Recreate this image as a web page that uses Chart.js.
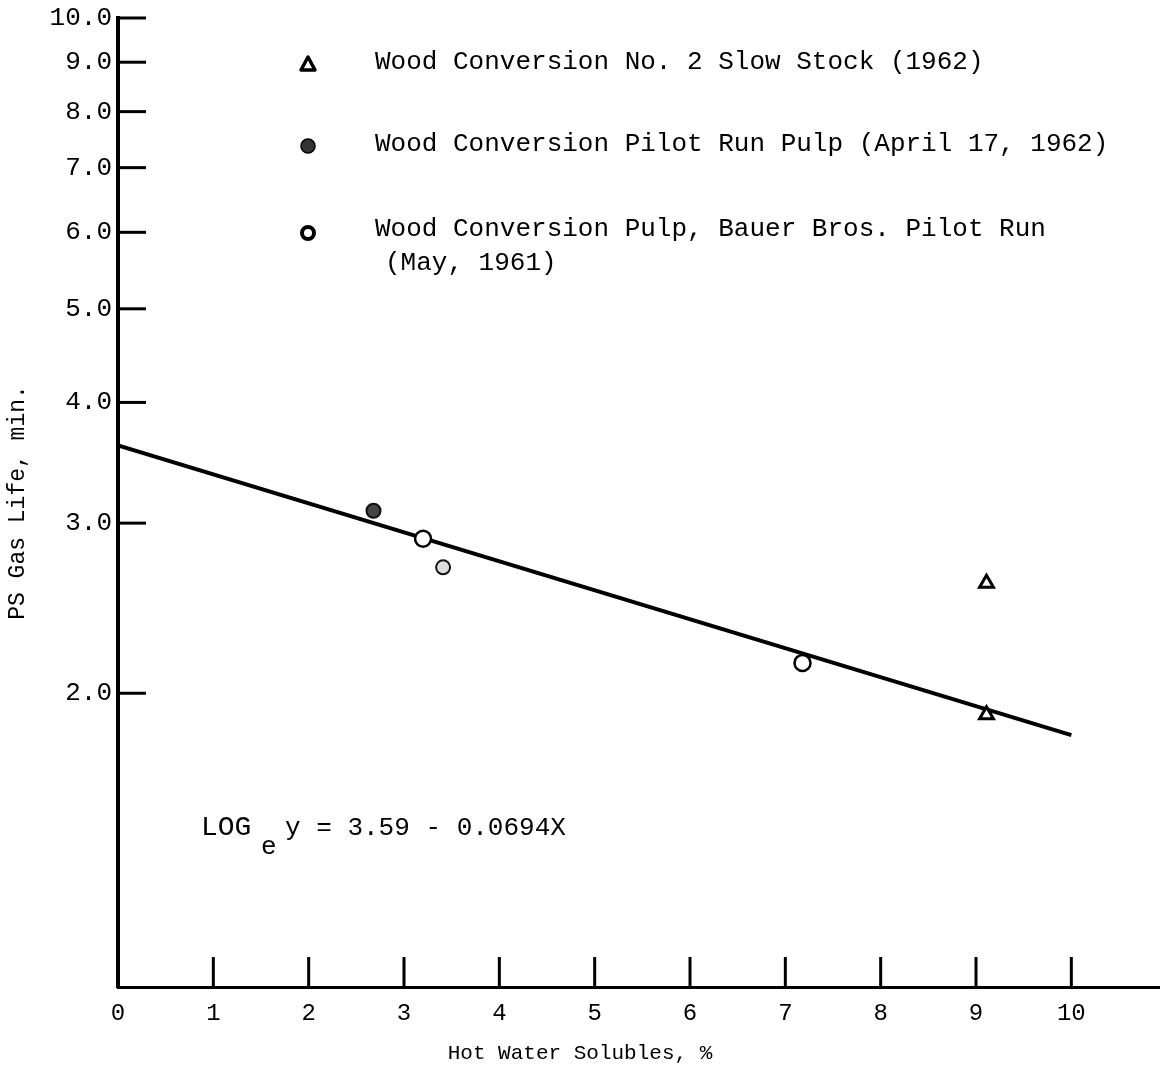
<!DOCTYPE html>
<html>
<head>
<meta charset="utf-8">
<script src="https://cdn.jsdelivr.net/npm/chart.js@4/dist/chart.umd.min.js"></script>
<style>
html,body{margin:0;padding:0;background:#fff;}
#wrap{width:1160px;height:1072px;position:relative;}
</style>
</head>
<body>
<div id="wrap"><canvas id="c" width="1160" height="1072"></canvas></div>
<script>
// ---- data ----
const xTickValues = [0,1,2,3,4,5,6,7,8,9,10];
const yTickValues = [2,3,4,5,6,7,8,9,10];
const slowStockX = [9.11, 9.11];
const slowStockY = [2.60, 1.90];
const pilotRunX = [2.68, 3.41];
const pilotRunY = [3.09, 2.70];
const bauerX = [3.20, 7.18];
const bauerY = [2.89, 2.15];
const fitX = [0, 10];
const fitY = [3.61, 1.81];
const legendLabels = [
  "Wood Conversion No. 2 Slow Stock (1962)",
  "Wood Conversion Pilot Run Pulp (April 17, 1962)",
  "Wood Conversion Pulp, Bauer Bros. Pilot Run"
];
const legendLabel3b = "(May, 1961)";
const equationParts = ["LOG", "e", "y = 3.59 - 0.0694X"];
const xTitle = "Hot Water Solubles, %";
const yTitle = "PS Gas Life, min.";

const FONT = "'Liberation Mono', 'DejaVu Sans Mono', monospace";
const pts = (xs, ys) => xs.map((x, i) => ({x, y: ys[i]}));

const overlay = {
  id: 'overlay',
  afterDatasetsDraw(chart) {
    const ctx = chart.ctx;
    const xs = chart.scales.x, ys = chart.scales.y;
    const a = chart.chartArea;
    ctx.save();
    ctx.strokeStyle = '#000';
    ctx.lineWidth = 3;
    // y tick marks (inside)
    yTickValues.forEach(v => {
      const py = ys.getPixelForValue(v);
      ctx.beginPath(); ctx.moveTo(a.left, py); ctx.lineTo(a.left + 28, py); ctx.stroke();
    });
    // x tick marks (inside)
    xTickValues.filter(v => v > 0).forEach(v => {
      const px = xs.getPixelForValue(v);
      ctx.beginPath(); ctx.moveTo(px, a.bottom); ctx.lineTo(px, a.bottom - 30); ctx.stroke();
    });
    // legend
    ctx.fillStyle = '#000';
    ctx.font = "26px " + FONT;
    ctx.textBaseline = 'middle';
    ctx.textAlign = 'left';
    const lx = 308, tx = 375;
    const rows = [62, 144, 229];
    // triangle
    ctx.lineWidth = 3.5;
    ctx.lineJoin = 'round';
    ctx.beginPath();
    ctx.moveTo(lx, rows[0] - 5); ctx.lineTo(lx + 7, rows[0] + 8); ctx.lineTo(lx - 7, rows[0] + 8); ctx.closePath();
    ctx.fillStyle = '#fff'; ctx.fill(); ctx.stroke();
    // filled circle
    ctx.beginPath(); ctx.arc(lx, rows[1] + 2, 7, 0, Math.PI * 2);
    ctx.fillStyle = '#333'; ctx.fill(); ctx.lineWidth = 1.5; ctx.stroke();
    // open circle
    ctx.beginPath(); ctx.arc(lx, rows[2] + 4, 6, 0, Math.PI * 2);
    ctx.fillStyle = '#fff'; ctx.fill(); ctx.lineWidth = 4; ctx.stroke();
    ctx.fillStyle = '#000';
    legendLabels.forEach((t, i) => ctx.fillText(t, tx, rows[i]));
    ctx.fillText(legendLabel3b, tx + 10, rows[2] + 34);
    // equation
    ctx.font = "28px " + FONT;
    ctx.fillText(equationParts[0], 201, 828);
    ctx.font = "26px " + FONT;
    ctx.fillText(equationParts[1], 261, 847);
    ctx.fillText(equationParts[2], 285, 828);
    // x title
    ctx.font = "21px " + FONT;
    ctx.textAlign = 'center';
    ctx.fillText(xTitle, 580, 1053);
    ctx.restore();
  }
};

new Chart(document.getElementById('c'), {
  type: 'scatter',
  data: {
    datasets: [
      {
        label: 'fit', type: 'line', data: pts(fitX, fitY),
        borderColor: '#000', borderWidth: 4, pointRadius: 0, fill: false, order: 2
      },
      {
        label: legendLabels[0], data: pts(slowStockX, slowStockY),
        pointStyle: 'triangle', pointRadius: 8, borderWidth: 3,
        borderColor: '#000', backgroundColor: '#fff', order: 1
      },
      {
        label: legendLabels[1], data: pts(pilotRunX, pilotRunY),
        pointStyle: 'circle', pointRadius: 7, borderWidth: 2,
        borderColor: '#111', backgroundColor: ['#444', '#ddd'], order: 1
      },
      {
        label: legendLabels[2], data: pts(bauerX, bauerY),
        pointStyle: 'circle', pointRadius: 8, borderWidth: 2.5,
        borderColor: '#000', backgroundColor: '#fff', order: 1
      }
    ]
  },
  options: {
    responsive: false,
    animation: false,
    devicePixelRatio: 1,
    layout: { autoPadding: false, padding: { top: 18, right: 0, left: 0, bottom: 0 } },
    plugins: { legend: { display: false }, tooltip: { enabled: false } },
    scales: {
      x: {
        type: 'linear', min: 0, max: 10.93,
        grid: { display: false, drawTicks: false },
        border: { display: true, color: '#000', width: 3 },
        afterBuildTicks: s => { s.ticks = xTickValues.map(v => ({value: v})); },
        afterFit: s => { s.height = 85; s.paddingLeft = 0; s.paddingRight = 0; },
        ticks: {
          autoSkip: false, maxRotation: 0, padding: 12, color: '#000',
          font: { family: FONT, size: 24 },
          callback: v => String(v)
        },
        title: { display: false }
      },
      y: {
        type: 'logarithmic', min: 0.993, max: 10,
        grid: { display: false, drawTicks: false },
        border: { display: true, color: '#000', width: 4 },
        afterBuildTicks: s => { s.ticks = yTickValues.map(v => ({value: v})); },
        afterFit: s => { s.width = 118; s.paddingTop = 0; s.paddingBottom = 0; },
        ticks: {
          autoSkip: false, padding: 6, color: '#000',
          font: { family: FONT, size: 26 },
          callback: v => Number(v).toFixed(1)
        },
        title: {
          display: true, text: yTitle, color: '#000',
          font: { family: FONT, size: 23 }, padding: { top: 4, bottom: 0 }
        }
      }
    }
  },
  plugins: [overlay]
});
</script>
</body>
</html>
